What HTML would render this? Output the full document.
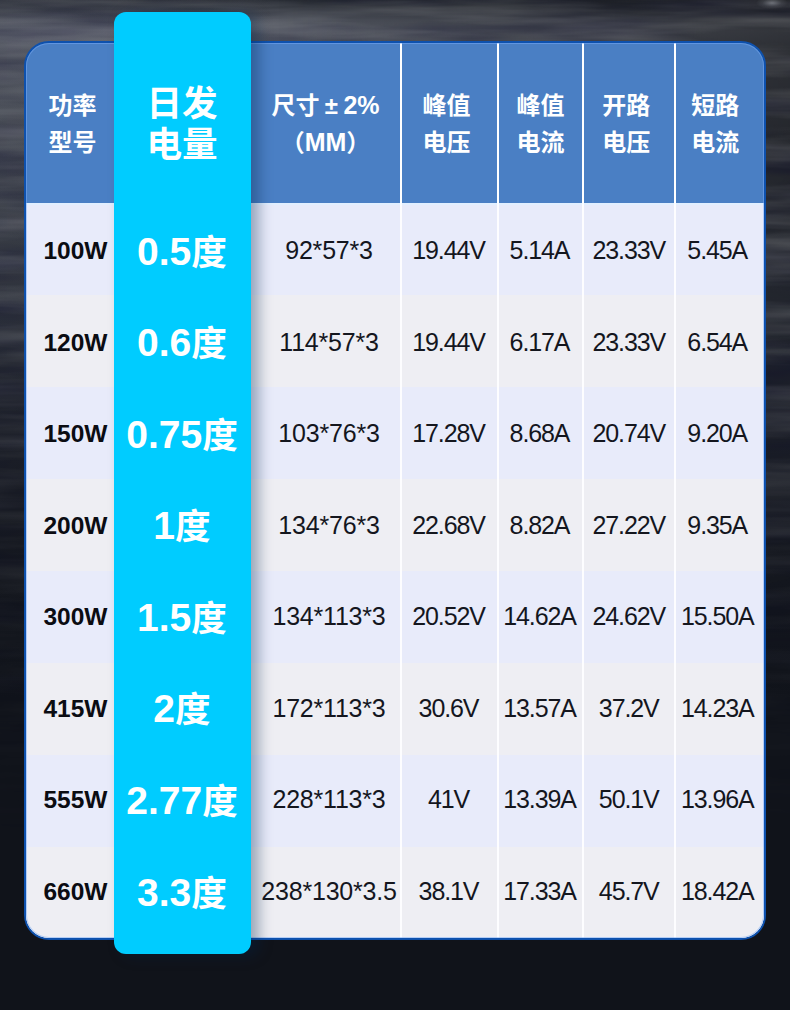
<!DOCTYPE html>
<html lang="zh-CN">
<head>
<meta charset="utf-8">
<title>太阳能板规格参数表</title>
<style>
*{box-sizing:border-box;margin:0;padding:0}
html,body{width:790px;height:1010px;overflow:hidden;background:#10131a}
body{font-family:"Liberation Sans","Noto Sans CJK SC",sans-serif;color:#14161e}
.page{position:relative;width:790px;height:1010px;overflow:hidden}
.bg{position:absolute;inset:0;
  background:
    linear-gradient(180deg,#272b33 0,#353942 9px,#4c505a 20px,#565a64 31px,#4e525c 46px,#444852 110px,#3a3e48 170px,#2b2f39 300px,#1c1f28 440px,#14171e 580px,#10131a 700px,#10131a 100%);}
.bg:after{content:"";position:absolute;right:0;top:0;width:60px;height:24px;background:radial-gradient(ellipse 16px 6px at 42px 3px,rgba(170,174,180,.55),rgba(120,125,130,.2) 60%,transparent 100%)}
.bg:before{content:"";position:absolute;left:0;top:0;right:0;height:460px;
  background:linear-gradient(90deg,rgba(130,135,145,.08) 0,rgba(60,65,75,.0) 35%,rgba(0,0,0,.42) 100%);
  -webkit-mask-image:linear-gradient(180deg,#000 0,#000 30%,transparent 100%);mask-image:linear-gradient(180deg,#000 0,#000 30%,transparent 100%)}
svg.tex{position:absolute;left:0;top:0;width:790px;height:1010px;opacity:.4;
  -webkit-mask-image:linear-gradient(180deg,#000 0,#000 300px,rgba(0,0,0,.35) 620px,rgba(0,0,0,.12) 760px,transparent 860px);mask-image:linear-gradient(180deg,#000 0,#000 300px,rgba(0,0,0,.35) 620px,rgba(0,0,0,.12) 760px,transparent 860px)}
.cj{font-family:"Liberation Sans","Noto Sans CJK SC",sans-serif;font-size:24px}
.pm{display:inline-block;width:24px;text-align:center}
.frame{position:absolute;left:24px;top:41px;width:742px;height:899px;border:2px solid #0e51ad;border-radius:25px;overflow:hidden;background:linear-gradient(180deg,#4a7fc4 0,#4a7fc4 160px,#eeeef3 160px,#eeeef3 100%)}
.frame:after{content:"";position:absolute;left:0;top:0;right:0;bottom:0;border-radius:23px;box-shadow:inset 0 0 0 1px rgba(120,172,250,.5);z-index:0;pointer-events:none}
table{border-collapse:collapse;table-layout:fixed;width:738px}
.w1{width:88px}.w2{width:137px}.w3{width:150px}.w4{width:97px}.w5{width:85px}.w6{width:91.5px}.w7{width:89.5px}
th{height:159.5px;background:#4a7fc4;color:#fff;font-weight:bold;font-size:25px;line-height:36px;text-align:center;vertical-align:top;padding-top:44px;border-left:2px solid #fff;white-space:nowrap}
th.c1,th.c2,th.c3{border-left:0}
th.c1{padding-left:5px}
th.c4{padding-right:6px}
th.c6{padding-right:5px}
th.c7{padding-right:9px}
td{height:92px;text-align:center;vertical-align:middle;font-size:25px;padding-top:5px;border-left:2px solid #fdfdff;white-space:nowrap}
td.c1,td.c2,td.c3{border-left:0}
tr:nth-child(odd) td{background:#e8ebfa}
tr.r1 td{box-shadow:inset 0 2px 0 rgba(225,240,255,.9)}
tr.r1 td.c2{box-shadow:none}
tr:nth-child(even) td{background:#eeeef3}
.t{position:relative}
tr.r1 .t{top:-0.0px}
tr.r2 .t{top:-0.46px}
tr.r3 .t{top:-0.93px}
tr.r4 .t{top:-1.39px}
tr.r5 .t{top:-1.86px}
tr.r6 .t{top:-2.32px}
tr.r7 .t{top:-2.78px}
tr.r8 .t{top:-3.25px}
td.c1{font-weight:bold;color:#0b0c12;font-size:24.5px;padding-left:11px}
td.c3{padding-left:7px;letter-spacing:-.2px;padding-top:4px}
td.c4,td.c5,td.c6,td.c7{letter-spacing:-1.1px;padding-top:4px}
td.c4,td.c5{padding-right:2px}
td.c7{padding-right:5px}
th.c2,td.c2{position:relative;z-index:2;color:#fff;background:none !important}
th.c2{font-size:38px;line-height:40px;padding-top:40px;padding-right:1px}
th.c2 .cj,td.c2 .cj{font-size:35.6px}
td.c2{font-weight:bold;font-size:39px;padding-top:1.5px;padding-right:1px}
.hl{position:absolute;left:114px;top:12px;width:137px;height:942px;border-radius:12px;background:#00ccff;z-index:1;box-shadow:8px 2px 14px rgba(0,35,75,.36)}

</style>
</head>
<body>
<div class="page">
  <div class="bg"></div>
  <svg class="tex" aria-hidden="true" viewBox="0 0 790 1010" preserveAspectRatio="none">
    <filter id="storm" x="0" y="0" width="100%" height="100%">
      <feTurbulence type="fractalNoise" baseFrequency="0.0045 0.055" numOctaves="4" seed="7" result="n"/>
      <feColorMatrix in="n" type="matrix" values="0 0 0 0 1  0 0 0 0 1  0 0 0 0 1  1.6 0 0 0 -0.62"/>
    </filter>
    <filter id="stormd" x="0" y="0" width="100%" height="100%">
      <feTurbulence type="fractalNoise" baseFrequency="0.006 0.04" numOctaves="3" seed="23" result="n"/>
      <feColorMatrix in="n" type="matrix" values="0 0 0 0 0  0 0 0 0 0  0 0 0 0 0.02  1.8 0 0 0 -0.72"/>
    </filter>
    <rect width="790" height="1010" filter="url(#stormd)"/>
    <rect width="790" height="1010" filter="url(#storm)" opacity=".5"/>
  </svg>
  <div class="frame">
    <table>
      <colgroup><col class="w1"><col class="w2"><col class="w3"><col class="w4"><col class="w5"><col class="w6"><col class="w7"></colgroup>
      <thead><tr><th class="c1"><div class="l1"><span class="cj">功率</span></div><div class="l2"><span class="cj">型号</span></div></th><th class="c2"><div class="l1"><span class="cj">日发</span></div><div class="l2"><span class="cj">电量</span></div></th><th class="c3"><div class="l1"><span class="cj">尺寸<span class="pm">±</span></span>2%</div><div class="l2"><span class="cj">（</span>MM<span class="cj">）</span></div></th><th class="c4"><div class="l1"><span class="cj">峰值</span></div><div class="l2"><span class="cj">电压</span></div></th><th class="c5"><div class="l1"><span class="cj">峰值</span></div><div class="l2"><span class="cj">电流</span></div></th><th class="c6"><div class="l1"><span class="cj">开路</span></div><div class="l2"><span class="cj">电压</span></div></th><th class="c7"><div class="l1"><span class="cj">短路</span></div><div class="l2"><span class="cj">电流</span></div></th></tr></thead>
      <tbody>
<tr class="r1"><td class="c1"><span class="t">100W</span></td><td class="c2"><span class="t">0.5<span class="cj">度</span></span></td><td class="c3"><span class="t">92*57*3</span></td><td class="c4"><span class="t">19.44V</span></td><td class="c5"><span class="t">5.14A</span></td><td class="c6"><span class="t">23.33V</span></td><td class="c7"><span class="t">5.45A</span></td></tr>
<tr class="r2"><td class="c1"><span class="t">120W</span></td><td class="c2"><span class="t">0.6<span class="cj">度</span></span></td><td class="c3"><span class="t">114*57*3</span></td><td class="c4"><span class="t">19.44V</span></td><td class="c5"><span class="t">6.17A</span></td><td class="c6"><span class="t">23.33V</span></td><td class="c7"><span class="t">6.54A</span></td></tr>
<tr class="r3"><td class="c1"><span class="t">150W</span></td><td class="c2"><span class="t">0.75<span class="cj">度</span></span></td><td class="c3"><span class="t">103*76*3</span></td><td class="c4"><span class="t">17.28V</span></td><td class="c5"><span class="t">8.68A</span></td><td class="c6"><span class="t">20.74V</span></td><td class="c7"><span class="t">9.20A</span></td></tr>
<tr class="r4"><td class="c1"><span class="t">200W</span></td><td class="c2"><span class="t">1<span class="cj">度</span></span></td><td class="c3"><span class="t">134*76*3</span></td><td class="c4"><span class="t">22.68V</span></td><td class="c5"><span class="t">8.82A</span></td><td class="c6"><span class="t">27.22V</span></td><td class="c7"><span class="t">9.35A</span></td></tr>
<tr class="r5"><td class="c1"><span class="t">300W</span></td><td class="c2"><span class="t">1.5<span class="cj">度</span></span></td><td class="c3"><span class="t">134*113*3</span></td><td class="c4"><span class="t">20.52V</span></td><td class="c5"><span class="t">14.62A</span></td><td class="c6"><span class="t">24.62V</span></td><td class="c7"><span class="t">15.50A</span></td></tr>
<tr class="r6"><td class="c1"><span class="t">415W</span></td><td class="c2"><span class="t">2<span class="cj">度</span></span></td><td class="c3"><span class="t">172*113*3</span></td><td class="c4"><span class="t">30.6V</span></td><td class="c5"><span class="t">13.57A</span></td><td class="c6"><span class="t">37.2V</span></td><td class="c7"><span class="t">14.23A</span></td></tr>
<tr class="r7"><td class="c1"><span class="t">555W</span></td><td class="c2"><span class="t">2.77<span class="cj">度</span></span></td><td class="c3"><span class="t">228*113*3</span></td><td class="c4"><span class="t">41V</span></td><td class="c5"><span class="t">13.39A</span></td><td class="c6"><span class="t">50.1V</span></td><td class="c7"><span class="t">13.96A</span></td></tr>
<tr class="r8"><td class="c1"><span class="t">660W</span></td><td class="c2"><span class="t">3.3<span class="cj">度</span></span></td><td class="c3"><span class="t">238*130*3.5</span></td><td class="c4"><span class="t">38.1V</span></td><td class="c5"><span class="t">17.33A</span></td><td class="c6"><span class="t">45.7V</span></td><td class="c7"><span class="t">18.42A</span></td></tr>
      </tbody>
    </table>
  </div>
  <div class="hl"></div>
</div>
</body>
</html>
